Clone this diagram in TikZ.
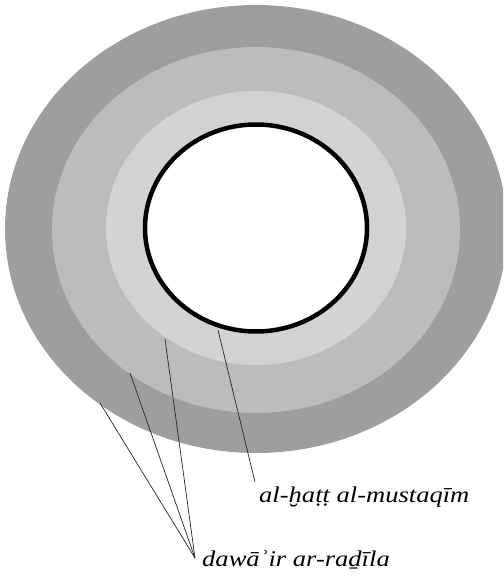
\documentclass[tikz,border=0pt]{standalone}
\usepackage{fontspec}
\newfontface\lblfont[FakeStretch=1.18]{Liberation Serif Italic}
\definecolor{ringA}{RGB}{158,158,158}
\definecolor{ringB}{RGB}{188,188,188}
\definecolor{ringC}{RGB}{211,211,211}
\begin{document}
\begin{tikzpicture}[x=1pt,y=-1pt,
  ptr/.style={draw=black!85, line width=0.7pt},
  lbl/.style={font=\lblfont\fontsize{22.5}{27}\selectfont, inner sep=0pt, anchor=base west}]
\useasboundingbox (0,0) rectangle (503,583);
\begin{scope}
  \clip (0,0) rectangle (503,583);
  \fill[ringA] (256,229) ellipse [x radius=251, y radius=224];
  \fill[ringB] (256,230) ellipse [x radius=204, y radius=183];
  \fill[ringC] (256,228) ellipse [x radius=150, y radius=137];
  \draw[fill=white, line width=4.5pt] (256,228) ellipse [x radius=111, y radius=103.5];
\end{scope}
% pointer start points
\coordinate (pA) at (218,330);
\coordinate (p1) at (100,403);
\coordinate (p2) at (130,373);
\coordinate (p3) at (165,339);
\coordinate (tA) at (255,482);
\coordinate (tB) at (195,558);
% labels
\node[lbl] (hatt) at (259,502) {al-ḫaṭṭ al-mustaqīm};
\node[lbl] (dawair) at (202,566) {dawāʾir ar-raḏīla};
% connectors
\draw[ptr] (pA) -- (tA);
\draw[ptr] (p1) -- (tB);
\draw[ptr] (p2) -- (tB);
\draw[ptr] (p3) -- (tB);
\end{tikzpicture}
\end{document}
